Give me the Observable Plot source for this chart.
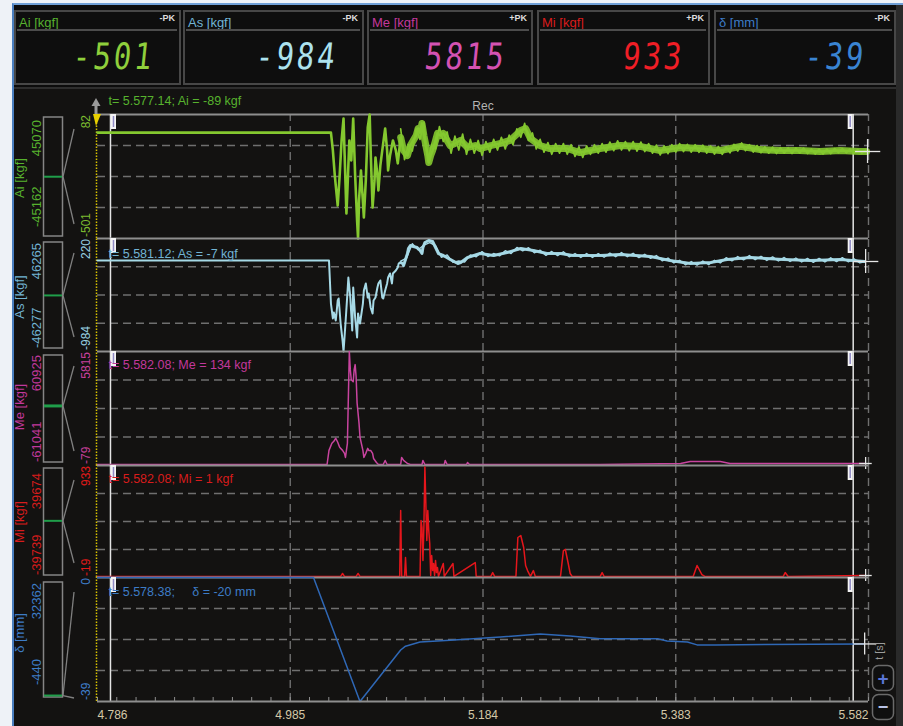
<!DOCTYPE html>
<html><head><meta charset="utf-8">
<script src="https://cdn.jsdelivr.net/npm/d3@7"></script>
<script src="https://cdn.jsdelivr.net/npm/@observablehq/plot@0.6"></script>
<style>
body{margin:0;background:#fff;}
#app{position:relative;width:903px;height:726px;overflow:hidden;background:#eef2f7;font-family:"Liberation Sans",Arial,sans-serif;}
svg text{white-space:pre;}
</style></head><body><div id="app"></div>
<script>
// ---------- axis / channel data ----------
const X0 = 4.786, X1 = 5.582;
const xTicks = [4.786, 4.985, 5.184, 5.383, 5.582];
const xTickLabels = ["4.786", "4.985", "5.184", "5.383", "5.582"];
const cursorTimes = [4.7994, 5.5662];

const channels = ["Ai", "As", "Me", "Mi", "δ"];
const units = ["kgf", "kgf", "kgf", "kgf", "mm"];
const peakValues = ["-501", "-984", "5815", "933", "-39"];
const peakTypes = ["-PK", "-PK", "+PK", "+PK", "-PK"];
const viewMax = [82, 220, 5815, 933, 0];
const viewMin = [-501, -984, -79, -19, -39];
const fullMax = [45070, 46265, 60925, 39674, 32362];
const fullMin = [-45162, -46277, -61041, -39739, -440];
const readouts = ["t= 5.577.14; Ai = -89 kgf", "t= 5.581.12; As = -7 kgf", "t= 5.582.08; Me = 134 kgf", "t= 5.582.08; Mi = 1 kgf", "t= 5.578.38;     δ = -20 mm"];

// ---------- series (t in s, value in channel unit) ----------
const aiT = [4.786,5.027,5.029,5.031,5.033,5.034,5.036,5.038,5.040,5.041,5.043,5.044,5.046,5.048,5.050,5.052,5.054,5.055,5.056,5.058,5.061,5.063,5.065,5.067,5.068,5.070,5.072,5.073,5.075,5.076,5.078,5.080,5.082,5.083,5.085,5.086,5.088,5.091,5.094,5.096,5.099,5.102,5.106,5.109,5.112,5.115,5.117,5.119,5.121,5.123,5.124,5.127,5.128,5.130,5.132,5.135,5.137,5.140,5.143,5.147,5.150,5.155,5.161,5.168,5.176,5.181,5.192,5.202,5.212,5.223,5.228,5.233,5.243,5.253,5.271,5.284,5.305,5.326,5.346,5.367,5.388,5.408,5.429,5.450,5.470,5.491,5.511,5.532,5.553,5.573,5.580];
const aiV = [-3,-3,-87,-205,-299,-346,-205,-40,63,-87,-383,-275,-40,-134,63,-205,-416,-501,-322,-181,-402,-228,21,82,-87,-355,-228,-120,-205,-275,-158,-87,-17,16,-87,-181,-111,-40,-87,-148,-26,-87,-111,-64,-40,-17,16,-3,40,-17,-40,-111,-144,-111,-87,-40,-7,-17,-7,-40,-64,-54,-40,-73,-64,-78,-64,-54,-40,7,16,-31,-64,-78,-78,-97,-78,-64,-68,-87,-73,-78,-87,-68,-83,-87,-87,-92,-87,-92,-92];
// high-rate ripple of Ai after the impact (sampled every 4 ms from 5.099 s)
const aiRippleStart = 5.099, aiRippleStep = 0.004;
const aiRipple = [15,-130,-60,-90,15,-35,45,-140,-60,-80,25,-45,0,-100,-20,-85,-10,-105,-35,-100,-40,-110,-45,-95,-35,-85,-25,-80,-15,-60,15,-25,40,-40,-5,-80,-35,-95,-50,-105,-55,-100,-55,-105,-60,-115,-70,-120,-65,-105,-60,-100,-55,-95,-48,-88,-42,-85,-45,-88,-45,-90,-48,-92,-55,-100,-62,-108,-65,-102,-60,-95,-55,-92,-58,-95,-60,-96,-62,-100,-66,-104,-68,-105,-70,-98,-58,-90,-52,-88,-60,-95,-64,-98,-70,-100,-72,-102,-74,-100,-74,-102,-75,-100,-76,-102,-80,-104,-80,-104,-80,-102,-78,-98,-78,-98,-80,-100,-82,-100,-86];

const asT = [4.786,5.025,5.027,5.029,5.030,5.032,5.034,5.035,5.037,5.039,5.040,5.042,5.044,5.045,5.047,5.049,5.050,5.052,5.054,5.055,5.057,5.060,5.061,5.063,5.065,5.066,5.068,5.070,5.071,5.073,5.075,5.076,5.078,5.080,5.081,5.083,5.085,5.086,5.088,5.090,5.091,5.094,5.096,5.097,5.099,5.101,5.102,5.104,5.106,5.107,5.109,5.112,5.116,5.119,5.121,5.122,5.124,5.128,5.132,5.135,5.138,5.143,5.150,5.158,5.161,5.168,5.181,5.195,5.209,5.223,5.236,5.250,5.264,5.277,5.292,5.305,5.326,5.357,5.377,5.398,5.419,5.436,5.460,5.494,5.522,5.553,5.578];
const asV = [-14,-14,-473,-632,-568,-654,-441,-419,-686,-867,-984,-686,-366,-196,-409,-760,-302,-622,-835,-579,-686,-473,-334,-259,-409,-366,-515,-579,-441,-409,-302,-259,-227,-409,-419,-334,-259,-196,-153,-259,-153,-121,-89,-46,-36,-46,-68,-3,60,113,145,135,124,92,60,124,177,199,188,124,60,39,-3,-46,-36,18,60,39,71,113,92,60,60,39,39,39,50,28,-14,-46,-36,-3,18,-3,-14,-4,-25];
// high-rate ripple of As (sampled every 6 ms from 5.099 s)
const asRippleStart = 5.099, asRippleStep = 0.006;
const asRipple = [-20,10,165,100,150,175,145,20,45,-35,-20,-30,45,25,80,28,60,35,90,60,125,88,122,68,95,40,82,38,78,25,60,18,60,18,58,20,64,26,70,26,62,16,52,8,38,-18,12,-40,-12,-60,-25,-64,-20,-58,-12,-40,15,-18,28,-8,38,-6,30,-14,24,-20,18,-25,12,-30,8,-34,8,-30,14,-26,16,-28,4,-40,-25];

const meT = [4.786,5.023,5.025,5.028,5.030,5.032,5.034,5.036,5.039,5.041,5.042,5.044,5.045,5.046,5.047,5.048,5.050,5.051,5.052,5.053,5.054,5.056,5.057,5.060,5.061,5.063,5.065,5.066,5.068,5.070,5.071,5.074,5.076,5.081,5.083,5.085,5.099,5.100,5.102,5.106,5.109,5.121,5.122,5.124,5.144,5.145,5.147,5.167,5.168,5.170,5.305,5.388,5.398,5.429,5.439,5.578];
const meV = [-27,-27,703,1068,1173,1329,1121,860,703,547,338,1068,3468,5815,4876,4355,4250,4876,5137,4511,3155,2112,1382,703,338,547,808,703,703,547,286,77,-27,-27,182,-27,-27,338,182,25,-27,-27,182,-27,-27,182,-27,-27,77,-27,-27,25,130,130,25,25];

const miT = [4.786,5.037,5.039,5.041,5.053,5.055,5.057,5.098,5.099,5.100,5.103,5.104,5.105,5.119,5.120,5.121,5.122,5.123,5.124,5.126,5.127,5.128,5.129,5.130,5.131,5.132,5.133,5.134,5.135,5.136,5.137,5.138,5.143,5.144,5.153,5.154,5.176,5.177,5.192,5.194,5.196,5.218,5.220,5.223,5.226,5.228,5.230,5.233,5.236,5.238,5.264,5.267,5.269,5.272,5.274,5.276,5.305,5.307,5.309,5.401,5.405,5.410,5.413,5.494,5.496,5.499,5.578];
const miV = [-10,-10,15,-10,-10,15,-10,-10,551,-10,-10,151,-10,-10,466,406,125,423,920,296,551,380,270,-2,168,40,100,-2,125,23,66,-10,100,-10,100,-10,108,-10,-10,23,-10,-10,321,338,236,83,40,-10,40,-10,-10,210,219,100,15,-10,-10,23,-10,-10,83,6,-10,-10,23,-10,-2];

const dT = [4.786,5.009,5.057,5.099,5.104,5.119,5.150,5.202,5.243,5.274,5.305,5.365,5.374,5.395,5.405,5.424,5.577];
const dV = [0,0,-39,-22.8,-21.6,-20.3,-19.7,-18.7,-17.8,-18.4,-19.3,-19.3,-20.0,-20.3,-21.2,-21.2,-20.9];

// ---------- styling per band ----------
const bands = [
  {t: aiT, v: aiV, color: "#84c82f", w: 2.6, base: 7, baseFrom: 5.099, ripple: aiRipple, rStart: aiRippleStart, rStep: aiRippleStep, rw: 1.7, label: "#57b22e", big: "#8fcf3c", tick: "#7cbc30", cross: 12, readDy: -14},
  {t: asT, v: asV, color: "#a6d9e6", w: 2, base: 3, baseFrom: 5.099, ripple: asRipple, rStart: asRippleStart, rStep: asRippleStep, rw: 1.4, label: "#72b4d4", big: "#ace2ee", tick: "#98d0e2", cross: 12, readDy: 15},
  {t: meT, v: meV, color: "#c8449f", w: 1.5, label: "#c2389c", big: "#d452b2", tick: "#c8409c", cross: 6, readDy: 13},
  {t: miT, v: miV, color: "#e5161c", w: 1.5, label: "#d81c1c", big: "#f01e26", tick: "#e01a1a", cross: 6, readDy: 13},
  {t: dT, v: dV, color: "#2f68b6", w: 1.5, label: "#3d7cc6", big: "#3a84d2", tick: "#3f7fcc", cross: 11, readDy: 14}
];
const tops = [114, 238, 351, 465, 577], bots = [238, 351, 465, 577, 701];

const app = document.getElementById("app");
function div(style, html = "") { const d = document.createElement("div"); d.style.cssText = "position:absolute;" + style; d.innerHTML = html; app.appendChild(d); return d; }

// window chrome
div("left:12px;top:3px;width:891px;height:723px;background:#131211;border-left:2px solid #4a7fc0;border-top:2px solid #6f9fd6;box-sizing:border-box;");
div("left:14px;top:5px;width:882px;height:82px;background:#0c0c0c;");
div("left:14px;top:87px;width:882px;height:2px;background:#2e2e2e;");
div("left:896px;top:5px;width:7px;height:721px;background:#2a2a2a;");

// top peak panels
const panelX = [[14, 181], [183, 364], [367, 533], [537, 710], [714, 896]];
panelX.forEach(([a, b], i) => {
  const p = div(`left:${a}px;top:10px;width:${b - a}px;height:75px;border:2px solid #474747;box-sizing:border-box;background:#0e0e0e;`);
  p.innerHTML =
    `<div style="position:absolute;left:3px;top:3px;font-size:13px;color:${bands[i].label};">${channels[i]} [${units[i]}]</div>` +
    `<div style="position:absolute;right:4px;top:1px;font-size:9px;font-weight:bold;color:#dcdcdc;">${peakTypes[i]}</div>` +
    `<div style="position:absolute;left:1px;right:2px;top:17px;height:2px;background:#4c4c4c;"></div>` +
    `<div style="position:absolute;right:${i === 4 ? 28 : 24}px;top:27px;font-family:'DejaVu Sans ExtraLight','DejaVu Sans Mono',monospace;font-size:29px;line-height:34px;letter-spacing:3px;color:${bands[i].big};transform:skewX(-6deg) scaleY(1.25);transform-origin:right center;">${peakValues[i]}</div>`;
});

// ---------- band plots ----------
const minor = d3.range(0, 41).map(k => X0 + k * (xTicks[1] - xTicks[0]) / 10);
const pxX = (X1 - X0) / 771;
bands.forEach((b, i) => {
  const top = tops[i], bot = bots[i], h = bot - top;
  const mt = 28, mb = i === 4 ? 25 : 0;
  const lo = viewMin[i], hi = viewMax[i], span = hi - lo, px = span / h;
  const data = b.t.map((t, k) => ({t, v: b.v[k]}));
  const last = data[data.length - 1];
  const quarters = [1, 2, 3].map(k => lo + span * k / 4);
  const marks = [
    Plot.ruleY(quarters, {x1: X0, x2: X1, stroke: "#6f6f6f", strokeWidth: 1.4, strokeDasharray: "8,5"}),
    Plot.ruleX(xTicks.slice(1), {y1: lo, y2: hi, stroke: "#6f6f6f", strokeWidth: 1.4, strokeDasharray: "8,5"}),
    Plot.ruleY([hi], {x1: X0, x2: X1, stroke: "#8e8e8e", strokeWidth: 2}),
    Plot.ruleX([X0], {y1: lo, y2: hi, stroke: "#d8c200", strokeWidth: 1.5, strokeDasharray: "1.5,1.5", dx: -1}),
    Plot.ruleX(cursorTimes, {y1: lo, y2: hi, stroke: "#e4e4e4", strokeWidth: 1.5}),
  ];
  if (b.ripple) {
    marks.push(Plot.line(data.filter(d => d.t >= b.baseFrom), {x: "t", y: "v", stroke: b.color, strokeWidth: b.base, strokeOpacity: 0.9, strokeLinejoin: "round"}));
    const rip = b.ripple.map((v, k) => ({t: b.rStart + k * b.rStep, v}));
    marks.push(Plot.line(rip, {x: "t", y: "v", stroke: b.color, strokeWidth: b.rw}));
  }
  marks.push(
    Plot.line(data, {x: "t", y: "v", stroke: b.color, strokeWidth: b.w}),
    Plot.ruleX([last], {x: "t", y1: d => d.v - b.cross * px, y2: d => d.v + b.cross * px, stroke: "#e6e6e6", strokeWidth: 1.3, dx: 1}),
    Plot.ruleY([last], {y: "v", x1: d => d.t - b.cross * pxX, x2: d => d.t + b.cross * 1.1 * pxX, stroke: "#e6e6e6", strokeWidth: 1.3, dx: 1}),
    Plot.ruleX([cursorTimes[0]], {y1: hi, y2: hi - 15 * px, stroke: "#f4f4f4", strokeWidth: 5, dx: 3}),
    Plot.ruleX([cursorTimes[0]], {y1: hi - 2 * px, y2: hi - 13 * px, stroke: "#8f8ac4", strokeWidth: 1.5, dx: 3}),
    Plot.ruleX([cursorTimes[1]], {y1: hi, y2: hi - 15 * px, stroke: "#f4f4f4", strokeWidth: 5, dx: -3}),
    Plot.ruleX([cursorTimes[1]], {y1: hi - 2 * px, y2: hi - 13 * px, stroke: "#8f8ac4", strokeWidth: 1.5, dx: -3}),
    Plot.text([readouts[i]], {text: d => d, frameAnchor: "top-left", dx: 11, dy: b.readDy, fill: b.label, fontSize: 12.5, textAnchor: "start", lineAnchor: "middle"})
  );
  if (i === 0) marks.push(Plot.text(["Rec"], {text: d => d, x: xTicks[2], frameAnchor: "top", dy: -8, fill: "#b4b4b4", fontSize: 12, lineAnchor: "middle"}));
  if (i === 4) {
    marks.push(
      Plot.ruleY([lo], {x1: X0, x2: X1, stroke: "#8e8e8e", strokeWidth: 2}),
      Plot.ruleX(minor, {y1: lo, y2: lo + 4 * px, stroke: "#8e8e8e", strokeWidth: 1}),
      Plot.text(xTicks.slice(0, 1), {x: d => d, y: lo, text: () => xTickLabels[0], dy: 14, textAnchor: "start", fill: "#d5c9a8", fontSize: 12, lineAnchor: "middle"}),
      Plot.text(xTicks.slice(1, 4), {x: d => d, y: lo, text: (d, k) => xTickLabels[k + 1], dy: 14, textAnchor: "middle", fill: "#d5c9a8", fontSize: 12, lineAnchor: "middle"}),
      Plot.text(xTicks.slice(4), {x: d => d, y: lo, text: () => xTickLabels[4], dy: 14, textAnchor: "end", fill: "#d5c9a8", fontSize: 12, lineAnchor: "middle"})
    );
  }
  const svg = Plot.plot({
    width: 903, height: h + mt + mb,
    marginLeft: 97, marginRight: 35, marginTop: mt, marginBottom: mb,
    x: {domain: [X0, X1], axis: null},
    y: {domain: [lo, hi], axis: null},
    style: {background: "transparent", overflow: "visible", fontFamily: "Liberation Sans, Arial, sans-serif"},
    marks
  });
  svg.style.position = "absolute";
  svg.style.left = "0px";
  svg.style.top = (top - mt) + "px";
  app.appendChild(svg);
});

// ---------- left range widgets & decorations ----------
const boxTop = [117, 242, 355, 468, 582], boxBot = [236, 348, 462, 575, 697];
const maxEnd = [120, 243, 355, 473, 583], minStart = [227, 348, 462, 575, 685];
const nameMid = [178, 297, 407, 522, 633];
let s = `<svg xmlns="http://www.w3.org/2000/svg" width="903" height="726" style="position:absolute;left:0;top:0;overflow:visible" font-family="Liberation Sans, Arial, sans-serif">`;
bands.forEach((b, i) => {
  const bt = boxTop[i], bb = boxBot[i];
  s += `<rect x="43.5" y="${bt}" width="19" height="${bb - bt}" fill="none" stroke="#858585" stroke-width="1.5"/>`;
  const mid = (viewMin[i] + viewMax[i]) / 2;
  const fy = bt + (fullMax[i] - mid) / (fullMax[i] - fullMin[i]) * (bb - bt);
  s += `<line x1="44" x2="62" y1="${fy}" y2="${fy}" stroke="#1f9e4a" stroke-width="${i === 2 ? 3 : 2}"/>`;
  const yTopEnd = tops[i] + 15, yBotEnd = i === 4 ? bots[i] - 3 : bots[i] - 14;
  s += `<line x1="63" y1="${fy}" x2="74" y2="${yTopEnd}" stroke="#808080" stroke-width="1.3"/>`;
  s += `<line x1="63" y1="${fy}" x2="74" y2="${yBotEnd}" stroke="#808080" stroke-width="1.3"/>`;
  const rot = (x, y, anchor, txt, col, fs) => `<text transform="translate(${x},${y}) rotate(-90)" text-anchor="${anchor}" dominant-baseline="central" fill="${col}" font-size="${fs}">${txt}</text>`;
  s += rot(19, nameMid[i], "middle", `${channels[i]} [${units[i]}]`, b.label, 13);
  s += rot(36, maxEnd[i], "end", fullMax[i], b.label, 13);
  s += rot(36, minStart[i], "start", fullMin[i], b.label, 13);
  s += rot(86, tops[i] + 1, "end", viewMax[i], b.tick, 12);
  s += rot(86, bots[i] - 1, "start", viewMin[i], b.tick, 12);
});
// trigger markers
s += `<polygon points="96,98 91.5,106 100.5,106" fill="#9a9a9a"/><rect x="94.5" y="106" width="3" height="8" fill="#9a9a9a"/>`;
s += `<polygon points="93,114 101,114 96,126" fill="#e8cf00"/>`;
// time unit & zoom buttons
s += `<text transform="translate(879,651) rotate(-90)" text-anchor="middle" dominant-baseline="central" fill="#9c9c9c" font-size="11">t [s]</text>`;
s += `<rect x="872.5" y="665.5" width="21" height="25" rx="6" fill="#0f0f0f" stroke="#6a6a6a" stroke-width="1.5"/>`;
s += `<text x="883" y="678.5" text-anchor="middle" dominant-baseline="central" fill="#5a74d6" font-size="19" font-weight="bold">+</text>`;
s += `<rect x="872.5" y="694.5" width="21" height="25" rx="6" fill="#0f0f0f" stroke="#6a6a6a" stroke-width="1.5"/>`;
s += `<text x="883" y="706.5" text-anchor="middle" dominant-baseline="central" fill="#b8c2e6" font-size="18" font-weight="bold">−</text>`;
s += `</svg>`;
div("left:0;top:0;width:903px;height:726px;pointer-events:none;", s);
</script></body></html>
